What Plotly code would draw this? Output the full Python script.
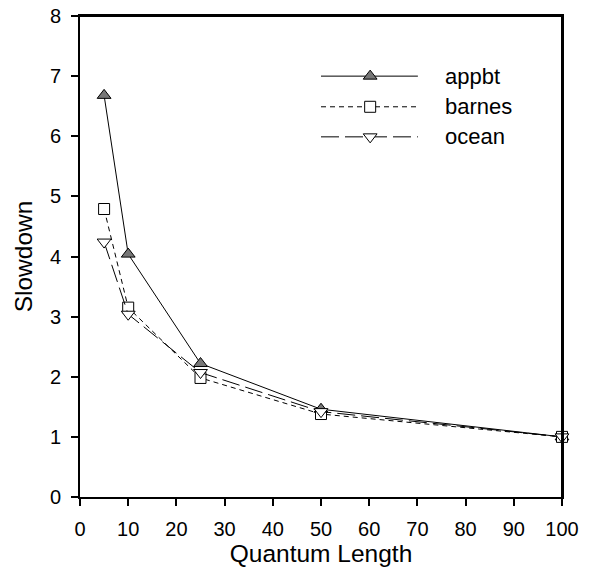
import plotly.graph_objects as go

quantum = [5, 10, 25, 50, 100]
appbt = [6.68, 4.04, 2.22, 1.46, 1.0]
barnes = [4.79, 3.15, 1.98, 1.38, 1.0]
ocean = [4.24, 3.04, 2.07, 1.42, 1.0]
series_names = ["appbt", "barnes", "ocean"]
x_ticks = [0, 10, 20, 30, 40, 50, 60, 70, 80, 90, 100]
y_ticks = [0, 1, 2, 3, 4, 5, 6, 7, 8]

FONT = "Liberation Sans, Arial, sans-serif"
styles = {
    "appbt": dict(dash="solid", symbol="triangle-up", fill="#777777"),
    "barnes": dict(dash="5px,4px", symbol="square", fill="white"),
    "ocean": dict(dash="18px,6px", symbol="triangle-down", fill="white"),
}
values = {"appbt": appbt, "barnes": barnes, "ocean": ocean}

fig = go.Figure()
for name in series_names:
    st = styles[name]
    fig.add_trace(go.Scatter(
        x=quantum, y=values[name], mode="lines+markers", name=name,
        line=dict(color="black", width=1, dash=st["dash"]),
        marker=dict(symbol=st["symbol"], size=12 if name != "barnes" else 11,
                    color=st["fill"], line=dict(color="black", width=1)),
        showlegend=False, cliponaxis=False,
    ))

# custom legend drawn inside the plot (legend layout positions in axis units)
leg_line_x = [50.0, 70.1]
leg_marker_x = 60.2
leg_text_x = 75.3
leg_y = [7.0, 6.49, 5.99]
for name, ly in zip(series_names, leg_y):
    st = styles[name]
    fig.add_trace(go.Scatter(
        x=leg_line_x, y=[ly, ly], mode="lines",
        line=dict(color="black", width=1, dash=st["dash"]), showlegend=False,
        hoverinfo="skip"))
    fig.add_trace(go.Scatter(
        x=[leg_marker_x], y=[ly], mode="markers",
        marker=dict(symbol=st["symbol"], size=12 if name != "barnes" else 11,
                    color=st["fill"], line=dict(color="black", width=1)),
        showlegend=False, hoverinfo="skip"))
    fig.add_annotation(x=leg_text_x, y=ly, text=name,
                       showarrow=False, xanchor="left", yanchor="middle",
                       font=dict(size=22, color="black", family=FONT))

# frame top/right lines
fig.add_shape(type="line", xref="x domain", yref="y domain", x0=0, x1=1, y0=1, y1=1,
              line=dict(color="black", width=2), layer="above")
fig.add_shape(type="line", xref="x domain", yref="y domain", x0=1, x1=1, y0=0, y1=1,
              line=dict(color="black", width=2), layer="above")

fig.update_layout(
    width=590, height=567,
    margin=dict(l=80, r=28, t=16, b=70),
    paper_bgcolor="white", plot_bgcolor="white",
    font=dict(family=FONT, size=20, color="black"),
    showlegend=False,
    xaxis=dict(range=[0, 100], tickvals=x_ticks, ticks="outside", ticklen=7,
               tickwidth=2, tickcolor="black", showline=True, linecolor="black",
               linewidth=2, mirror=True, showgrid=False, zeroline=False,
               ticklabelstandoff=6, ticklabeloverflow="allow", automargin=False,
               title=dict(text="Quantum Length", font=dict(size=24.5), standoff=0),
               tickfont=dict(size=20)),
    yaxis=dict(range=[0, 8], tickvals=y_ticks, ticks="outside", ticklen=7,
               tickwidth=2, tickcolor="black", showline=True, linecolor="black",
               linewidth=2, mirror=True, showgrid=False, zeroline=False,
               ticklabelstandoff=6, ticklabeloverflow="allow", automargin=False,
               title=dict(text="Slowdown", font=dict(size=24.5), standoff=10),
               tickfont=dict(size=20)),
)

fig.write_html("out.html", config={"displayModeBar": False},
               post_script="document.body.style.margin='0';")
